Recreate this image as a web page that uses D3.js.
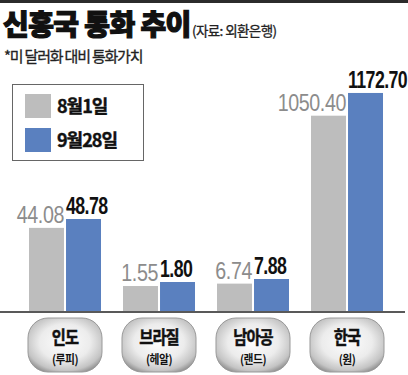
<!DOCTYPE html>
<html>
<head>
<meta charset="utf-8">
<script src="https://cdn.jsdelivr.net/npm/d3@7"></script>
<style>
  body { margin:0; background:#fff; }
  svg { display:block; }
</style>
</head>
<body>
<svg></svg>
<script>
// data
var countries = ["인도","브라질","남아공","한국"];
var currencies = ["(루피)","(헤알)","(랜드)","(원)"];
var seriesNames = ["8월1일","9월28일"];
var aug1 = [44.08, 1.55, 6.74, 1050.40];
var sep28 = [48.78, 1.80, 7.88, 1172.70];
// each currency has its own unit, so each group gets its own axis max
var axisMax = [133.1, 15.58, 61.8, 1350];

var width = 408;
var height = 375;
var base = 311;
var colors = ["#bdbdbd", "#5a80bf"];

var svg = d3.select("svg")
            .attr("width", width)
            .attr("height", height);

var defs = svg.append("defs");
var grad = defs.append("radialGradient")
               .attr("id", "pill")
               .attr("cx", "50%").attr("cy", "45%").attr("r", "62%");
grad.append("stop").attr("offset", "0%").attr("stop-color", "#fdfdfd");
grad.append("stop").attr("offset", "55%").attr("stop-color", "#ececec");
grad.append("stop").attr("offset", "85%").attr("stop-color", "#c4c4c4");
grad.append("stop").attr("offset", "100%").attr("stop-color", "#8e8e8e");

// top band
svg.append("rect")
   .attr("x", 0).attr("y", 0)
   .attr("width", width).attr("height", 3)
   .attr("fill", "#2b2b2b");

// titles
svg.append("text")
   .text("신흥국 통화 추이")
   .attr("x", 3).attr("y", 35)
   .attr("font-family", "Noto Sans CJK KR")
   .attr("font-weight", 900)
   .attr("font-size", 28)
   .attr("letter-spacing", -0.6)
   .attr("fill", "#111")
   .attr("stroke", "#111")
   .attr("stroke-width", 1.2);

svg.append("text")
   .text("(자료: 외환은행)")
   .attr("x", 192).attr("y", 36)
   .attr("font-family", "Noto Sans CJK KR")
   .attr("font-size", 13.5)
   .attr("letter-spacing", -0.6)
   .attr("fill", "#222")
   .attr("stroke", "#222")
   .attr("stroke-width", 0.3);

svg.append("text")
   .text("*미 달러화 대비 통화가치")
   .attr("x", 4).attr("y", 62)
   .attr("font-family", "Noto Sans CJK KR")
   .attr("font-size", 15)
   .attr("letter-spacing", -1.2)
   .attr("fill", "#222")
   .attr("stroke", "#222")
   .attr("stroke-width", 0.3);

// scales
var xScale = d3.scaleBand()
               .domain(countries)
               .range([18, 394])
               .paddingInner(0.234)
               .paddingOuter(0.117);

var xInner = d3.scaleBand()
               .domain(seriesNames)
               .range([0, xScale.bandwidth()])
               .paddingInner(0.055);

var yScales = axisMax.map(function(m){
  return d3.scaleLinear()
           .domain([0, m])
           .range([base, 60]);
});

var rows = countries.map(function(c, i){
  return {
    name: c,
    unit: currencies[i],
    i: i,
    values: [
      {series: seriesNames[0], v: aug1[i], k: 0},
      {series: seriesNames[1], v: sep28[i], k: 1}
    ]
  };
});

var groups = svg.selectAll("g.group")
                .data(rows)
                .enter()
                .append("g")
                .attr("class", "group")
                .attr("transform", function(d){
                  return "translate(" + xScale(d.name) + ",0)";
                });

groups.selectAll("rect")
      .data(function(d){
        return d.values.map(function(v){ v.i = d.i; return v; });
      })
      .enter()
      .append("rect")
      .attr("x", function(d){ return xInner(d.series); })
      .attr("y", function(d){ return yScales[d.i](d.v); })
      .attr("width", xInner.bandwidth())
      .attr("height", function(d){ return base - yScales[d.i](d.v); })
      .attr("fill", function(d){ return colors[d.k]; });

// value labels
groups.selectAll("text.val")
      .data(function(d){ return d.values; })
      .enter()
      .append("text")
      .attr("class", "val")
      .text(function(d){ return d.v.toFixed(2); })
      .attr("transform", function(d){
        var x = d.k === 0 ? xInner(d.series) + xInner.bandwidth() : xInner(d.series);
        var y = yScales[d.i](d.v) - 5;
        var sx = d.k === 0 ? 0.82 : 0.74;
        return "translate(" + x + "," + y + ") scale(" + sx + ",1)";
      })
      .attr("text-anchor", function(d){ return d.k === 0 ? "end" : "start"; })
      .attr("font-family", "Liberation Sans, Arial, sans-serif")
      .attr("font-size", 24)
      .attr("font-weight", function(d){ return d.k === 0 ? 400 : 700; })
      .attr("letter-spacing", function(d){ return d.k === 0 ? -0.5 : -0.8; })
      .attr("fill", function(d){ return d.k === 0 ? "#8c8c8c" : "#111"; });

// baseline
svg.append("line")
   .attr("x1", 0).attr("x2", 405)
   .attr("y1", base + 1).attr("y2", base + 1)
   .attr("stroke", "#222")
   .attr("stroke-width", 1.5);

// category pills
var pw = xScale.bandwidth() + 2;
groups.append("rect")
      .attr("x", -1)
      .attr("y", 318)
      .attr("width", pw)
      .attr("height", 54)
      .attr("rx", 20)
      .attr("fill", "url(#pill)")
      .attr("stroke", "#9a9a9a")
      .attr("stroke-width", 1);

groups.append("text")
      .text(function(d){ return d.name; })
      .attr("transform", "translate(" + (xScale.bandwidth() / 2) + ",344) scale(0.85,1)")
      .attr("text-anchor", "middle")
      .attr("font-family", "Noto Sans CJK KR")
      .attr("font-weight", 700)
      .attr("font-size", 18)
      .attr("letter-spacing", -1)
      .attr("fill", "#111")
      .attr("stroke", "#111")
      .attr("stroke-width", 0.5);

groups.append("text")
      .text(function(d){ return d.unit; })
      .attr("transform", "translate(" + (xScale.bandwidth() / 2) + ",364) scale(0.9,1)")
      .attr("text-anchor", "middle")
      .attr("font-family", "Noto Sans CJK KR")
      .attr("font-weight", 700)
      .attr("font-size", 12)
      .attr("letter-spacing", -0.5)
      .attr("fill", "#111");

// legend
var legend = svg.append("g");
legend.append("rect")
      .attr("x", 12.5).attr("y", 84.5)
      .attr("width", 131).attr("height", 76)
      .attr("fill", "#fff")
      .attr("stroke", "#666")
      .attr("stroke-width", 1);

seriesNames.forEach(function(s, k){
  legend.append("rect")
        .attr("x", 25).attr("y", 94 + k * 34)
        .attr("width", 26).attr("height", 24)
        .attr("fill", colors[k]);
  legend.append("text")
        .text(s)
        .attr("x", 57).attr("y", 113 + k * 34)
        .attr("font-family", "Noto Sans CJK KR")
        .attr("font-weight", 700)
        .attr("font-size", 18)
        .attr("letter-spacing", -1)
        .attr("fill", "#111")
        .attr("stroke", "#111")
        .attr("stroke-width", 0.4);
});
</script>
</body>
</html>
